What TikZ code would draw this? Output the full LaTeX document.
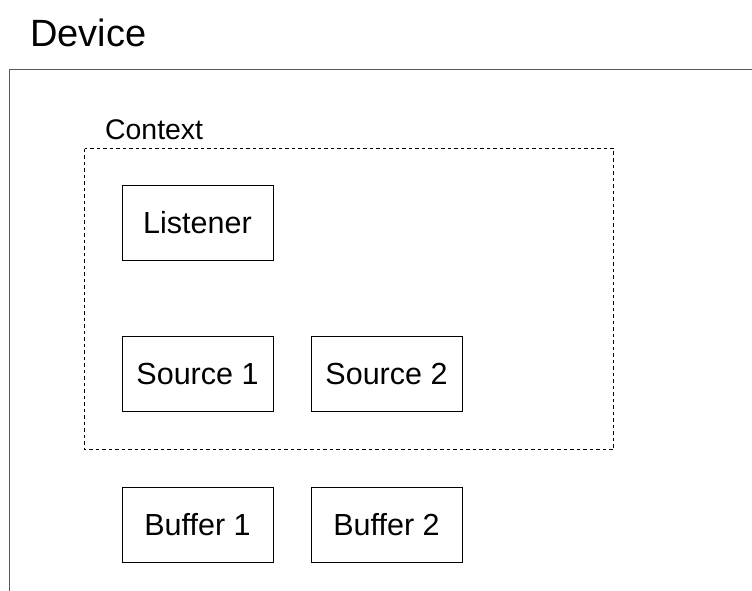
\documentclass[tikz,border=0pt]{standalone}
\usepackage{fontspec}
\setmainfont{Liberation Sans}
\begin{document}
\begin{tikzpicture}[x=1pt,y=-1pt,
  compbox/.style={draw=black,line width=0.9pt,minimum width=151pt,minimum height=75pt,inner sep=0pt,font=\fontsize{30.5}{36}\selectfont},
  ctxbox/.style={draw=black,line width=0.8pt,dash pattern=on 3.5pt off 3pt},
  devbox/.style={draw=black!65,line width=1.2pt}]
\useasboundingbox (0,0) rectangle (752,591);
\begin{scope}
\clip (0,0) rectangle (752,591);
\draw[devbox] (9.5,69.5) rectangle (800,650);
\end{scope}
\node[anchor=west,inner sep=0pt,font=\fontsize{38}{44}\selectfont] (device) at (30,33) {Device};
\draw[ctxbox] (84.5,148.5) rectangle (613.5,449.5);
\node[anchor=west,inner sep=0pt,font=\fontsize{28.4}{34}\selectfont] (context) at (105,130) {Context};
\node[compbox] (listener) at (197.5,222.5) {Listener};
\node[compbox] (source1) at (197.5,373.5) {Source 1};
\node[compbox] (source2) at (386.5,373.5) {Source 2};
\node[compbox] (buffer1) at (197.5,525) {Buffer 1};
\node[compbox] (buffer2) at (386.5,525) {Buffer 2};
\end{tikzpicture}
\end{document}
